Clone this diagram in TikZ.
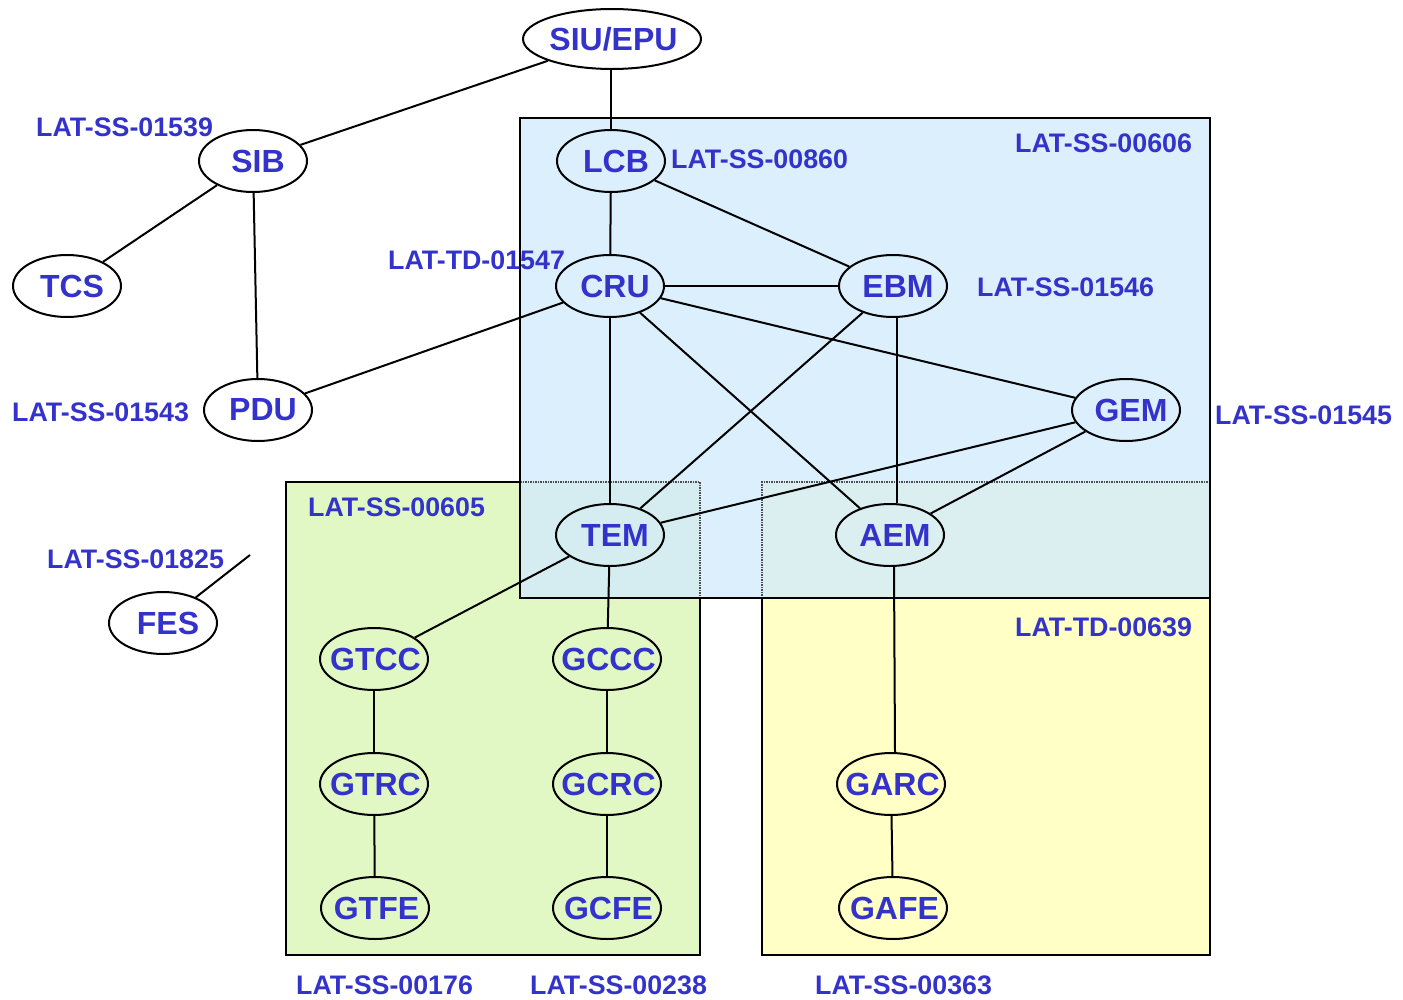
\documentclass[tikz,border=0pt]{standalone}
\usepackage{fontspec}
\setmainfont{Liberation Sans}
\usetikzlibrary{shapes.geometric}
\definecolor{txtblue}{HTML}{3333CC}
\definecolor{bluefill}{HTML}{D2EBFC}
\definecolor{greenfill}{HTML}{E2F8C4}
\definecolor{yellowfill}{HTML}{FFFFC6}
\newcommand{\zw}[1]{\makebox[0pt]{\hspace{10pt}#1}}
\newcommand{\zf}[1]{\makebox[0pt]{\hspace{3pt}#1}}
\tikzset{
  unit/.style={ellipse, draw, line width=2pt, minimum width=108pt, minimum height=62pt, inner sep=0pt,
    text=txtblue, font=\fontsize{32}{34}\selectfont\bfseries},
  tag/.style={text=txtblue, font=\fontsize{26.8}{28}\selectfont\bfseries, inner sep=0pt},
  link/.style={line width=2pt},
  boxline/.style={line width=2pt},
  hidden/.style={line width=1.2pt, draw=black!70, dash pattern=on 1.5pt off 1pt}
}
\begin{document}
\begin{tikzpicture}[x=1pt,y=-1pt]
\useasboundingbox (0,0) rectangle (1403,999);
% fills
\fill[greenfill] (286,482) rectangle (700,955);
\fill[yellowfill] (762,482) rectangle (1210,955);
\fill[bluefill, opacity=0.8] (520,118) rectangle (1210,598);
% hidden borders inside blue
\draw[hidden] (520,482) -- (700,482) -- (700,598);
\draw[hidden] (762,598) -- (762,482) -- (1210,482);
% solid borders
\draw[boxline] (520,118) rectangle (1210,598);
\draw[boxline] (520,482) -- (286,482) -- (286,955) -- (700,955) -- (700,598);
\draw[boxline] (762,598) -- (762,955) -- (1210,955) -- (1210,598);
% nodes
\node[unit, minimum width=178pt, minimum height=60pt] (siu) at (612,39) {\zf{SIU/EPU}};
\node[unit] (lcb) at (611,161) {\zw{LCB}};
\node[unit] (sib) at (253,161) {\zw{SIB}};
\node[unit] (tcs) at (67,286) {\zw{TCS}};
\node[unit] (cru) at (610,286) {\zw{CRU}};
\node[unit] (ebm) at (893,286) {\zw{EBM}};
\node[unit] (pdu) at (258,410) {\zw{PDU}};
\node[unit] (gem) at (1126,410) {\zw{GEM}};
\node[unit] (tem) at (610,535) {\zw{TEM}};
\node[unit] (aem) at (890,535) {\zw{AEM}};
\node[unit] (fes) at (163,623) {\zw{FES}};
\node[unit] (gtcc) at (374,659) {\zf{GTCC}};
\node[unit] (gccc) at (607,659) {\zf{GCCC}};
\node[unit] (gtrc) at (374,784) {\zf{GTRC}};
\node[unit] (gcrc) at (607,784) {\zf{GCRC}};
\node[unit] (gtfe) at (375,908) {\zf{GTFE}};
\node[unit] (gcfe) at (607,908) {\zf{GCFE}};
\node[unit] (garc) at (891,784) {\zf{GARC}};
\node[unit] (gafe) at (893,908) {\zf{GAFE}};
\coordinate (fesend) at (250,555);
% links
\draw[link] (siu) -- (sib);
\draw[link] (siu.south -| lcb.north) -- (lcb);
\draw[link] (sib) -- (tcs);
\draw[link] (sib) -- (pdu);
\draw[link] (lcb) -- (cru);
\draw[link] (lcb) -- (ebm);
\draw[link] (cru) -- (ebm);
\draw[link] (cru) -- (pdu);
\draw[link] (cru) -- (tem);
\draw[link] (cru) -- (aem);
\draw[link] (cru) -- (gem);
\draw[link] (ebm) -- (tem);
\draw[link] ([xshift=4pt]ebm.south) -- ([xshift=7pt]aem.north);
\draw[link] (gem) -- (tem);
\draw[link] (gem) -- (aem);
\draw[link] (tem) -- (gtcc);
\draw[link] (tem) -- (gccc);
\draw[link] (gtcc) -- (gtrc);
\draw[link] (gtrc) -- (gtfe);
\draw[link] (gccc) -- (gcrc);
\draw[link] (gcrc) -- (gcfe);
\draw[link] ([xshift=4pt]aem.south) -- ([xshift=4pt]garc.north);
\draw[link] (garc) -- (gafe);
\draw[link] (fes) -- (fesend);
% labels
\node[tag, anchor=west] (l1) at (36,127) {LAT-SS-01539};
\node[tag, anchor=west] (l2) at (671,159) {LAT-SS-00860};
\node[tag, anchor=west] (l3) at (1015,143) {LAT-SS-00606};
\node[tag, anchor=west] (l4) at (388,260) {LAT-TD-01547};
\node[tag, anchor=west] (l5) at (977,287) {LAT-SS-01546};
\node[tag, anchor=west] (l6) at (12,412) {LAT-SS-01543};
\node[tag, anchor=west] (l7) at (1215,415) {LAT-SS-01545};
\node[tag, anchor=west] (l8) at (308,507) {LAT-SS-00605};
\node[tag, anchor=west] (l9) at (47,559) {LAT-SS-01825};
\node[tag, anchor=west] (l10) at (1015,627) {LAT-TD-00639};
\node[tag, anchor=west] (l11) at (296,985) {LAT-SS-00176};
\node[tag, anchor=west] (l12) at (530,985) {LAT-SS-00238};
\node[tag, anchor=west] (l13) at (815,985) {LAT-SS-00363};
\end{tikzpicture}
\end{document}
